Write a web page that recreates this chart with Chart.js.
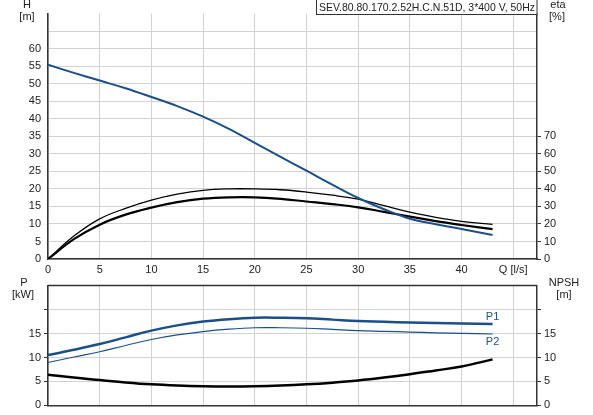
<!DOCTYPE html>
<html>
<head>
<meta charset="utf-8">
<script src="https://cdn.jsdelivr.net/npm/chart.js@4.4.1/dist/chart.umd.min.js"></script>
<style>
    body { margin: 0; background: #fff; width: 593px; height: 415px; position: relative; overflow: hidden; }
    canvas { position: absolute; left: 0; }
    #topChart { top: 0; }
    #botChart { top: 276px; }
</style>
</head>
<body>
<canvas id="topChart" width="593" height="276"></canvas>
<canvas id="botChart" width="593" height="139"></canvas>
<script>
// values
const flowQ = [0, 2.5, 5, 7.5, 10, 12.5, 15, 17.5, 20, 22.5, 25, 27.5, 30, 32.5, 35, 37.5, 40, 43];
const headH = [55.4, 53.1, 50.9, 48.7, 46.2, 43.6, 40.6, 37.1, 33.1, 29.1, 25.2, 21.2, 17.4, 14.2, 11.5, 9.9, 8.55, 6.85];
const etaPump = [0, 13.1, 22.9, 28.9, 33.6, 37.0, 39.2, 40.0, 40.0, 39.5, 38.2, 36.4, 34.1, 30.4, 26.7, 23.8, 21.5, 19.7];
const etaTotal = [0, 11.3, 19.6, 25.3, 29.3, 32.4, 34.4, 35.2, 35.2, 34.3, 32.8, 31.3, 29.5, 26.9, 24.2, 21.6, 19.4, 17.0];
const powerP1 = [10.5, 11.6, 12.8, 14.2, 15.6, 16.7, 17.5, 18.0, 18.3, 18.3, 18.2, 17.9, 17.6, 17.45, 17.3, 17.2, 17.1, 17.0];
const powerP2 = [8.95, 10.1, 11.2, 12.5, 13.75, 14.7, 15.4, 15.9, 16.2, 16.2, 16.1, 15.85, 15.6, 15.45, 15.3, 15.15, 15.05, 14.9];
const npshR = [6.4, 5.8, 5.3, 4.8, 4.4, 4.15, 4.0, 3.95, 4.0, 4.15, 4.4, 4.75, 5.2, 5.8, 6.5, 7.3, 8.1, 9.6];

const qTicks = [0, 5, 10, 15, 20, 25, 30, 35, 40, 45];
const qLabels = ["0", "5", "10", "15", "20", "25", "30", "35", "40", "Q [l/s]"];
const hTicks = [0, 5, 10, 15, 20, 25, 30, 35, 40, 45, 50, 55, 60, 65];
const hLabels = ["0", "5", "10", "15", "20", "25", "30", "35", "40", "45", "50", "55", "60", ""];
const etaTicks = [0, 10, 20, 30, 40, 50, 60, 70];
const pTicks = [0, 5, 10, 15, 20];
const pLabels = ["0", "5", "10", "15", ""];

const titleText = "SEV.80.80.170.2.52H.C.N.51D, 3*400 V, 50Hz";

const BLUE = "#1b4f8c";
const AXIS = "#333";
const GRID = "#d2d2d2";
const FONT = "'Liberation Sans', Arial, sans-serif";

Chart.defaults.font.family = FONT;
Chart.defaults.font.size = 11;
Chart.defaults.color = "#222";

function pts(ys) {
    return flowQ.map((q, i) => ({ x: q, y: ys[i] }));
}

function setTicks(values) {
    return (scale) => { scale.ticks = values.map((v) => ({ value: v })); };
}

function line(data, color, width, axis) {
    return {
        data: pts(data),
        borderColor: color,
        borderWidth: width,
        pointRadius: 0,
        tension: 0.4,
        yAxisID: axis,
        fill: false,
    };
}

function text(ctx, str, x, y, align, color, maxW) {
    ctx.save();
    ctx.font = "11px " + FONT;
    ctx.fillStyle = color || "#222";
    ctx.textAlign = align || "center";
    ctx.textBaseline = "middle";
    if (maxW) ctx.fillText(str, x, y, maxW);
    else ctx.fillText(str, x, y);
    ctx.restore();
}

const qAxis = (showLabels, h) => ({
    type: "linear",
    min: 0,
    max: 47.3,
    afterBuildTicks: setTicks(qTicks),
    afterFit: (s) => { s.height = h; },
    grid: { color: GRID, lineWidth: 1, drawTicks: false },
    border: { color: AXIS, width: 1.5 },
    ticks: {
        display: showLabels,
        padding: 4,
        maxRotation: 0,
        autoSkip: false,
        callback: (v, i) => qLabels[i],
    },
});

// top chart: head + efficiency
const topLabels = {
    id: "topLabels",
    afterDraw(chart) {
        const ctx = chart.ctx;
        text(ctx, "H", 27, 5);
        text(ctx, "[m]", 27, 17);
        text(ctx, "eta", 558, 5);
        text(ctx, "[%]", 557, 17);

        const a = chart.chartArea;
        ctx.save();
        ctx.fillStyle = "#fff";
        ctx.fillRect(316, 0, a.right - 316, 14);
        ctx.strokeStyle = AXIS;
        ctx.lineWidth = 1;
        ctx.strokeRect(316.5, -1, a.right - 316.5, 15.5);
        ctx.restore();
        text(ctx, titleText, 319, 7.5, "left", "#222", 216);
    },
};

new Chart(document.getElementById("topChart"), {
    type: "line",
    data: {
        datasets: [
            line(headH, BLUE, 2, "h"),
            line(etaPump, "#000", 1.3, "eta"),
            line(etaTotal, "#000", 2.2, "eta"),
        ],
    },
    options: {
        responsive: false,
        animation: false,
        layout: { padding: 0 },
        plugins: { legend: { display: false }, tooltip: { enabled: false } },
        scales: {
            x: qAxis(true, 17),
            h: {
                position: "left",
                min: 0,
                max: 70,
                afterBuildTicks: setTicks(hTicks),
                afterFit: (s) => { s.width = 48; },
                grid: { color: GRID, lineWidth: 1, drawTicks: false },
                border: { color: AXIS, width: 1.5 },
                ticks: { padding: 7, callback: (v, i) => hLabels[i] },
            },
            eta: {
                position: "right",
                min: 0,
                max: 140,
                afterBuildTicks: setTicks(etaTicks),
                afterFit: (s) => { s.width = 56; },
                grid: { drawOnChartArea: false, drawTicks: true, tickLength: 4, tickColor: AXIS },
                border: { color: AXIS, width: 1.5 },
                ticks: { padding: 3 },
            },
        },
    },
    plugins: [topLabels],
});

// bottom chart: power + NPSH
const botLabels = {
    id: "botLabels",
    afterDraw(chart) {
        const ctx = chart.ctx;
        const a = chart.chartArea;
        ctx.save();
        ctx.strokeStyle = AXIS;
        ctx.lineWidth = 1.5;
        ctx.beginPath();
        ctx.moveTo(a.left, a.top);
        ctx.lineTo(a.right, a.top);
        ctx.stroke();
        ctx.restore();

        text(ctx, "P", 24, 7);
        text(ctx, "[kW]", 23, 19);
        text(ctx, "NPSH", 564, 7);
        text(ctx, "[m]", 564, 19);

        const xs = chart.scales.x;
        const ps = chart.scales.p;
        const n = flowQ.length - 1;
        const xEnd = xs.getPixelForValue(flowQ[n]);
        text(ctx, "P1", xEnd, ps.getPixelForValue(powerP1[n]) - 7, "center", BLUE);
        text(ctx, "P2", xEnd, ps.getPixelForValue(powerP2[n]) + 8, "center", BLUE);
    },
};

new Chart(document.getElementById("botChart"), {
    type: "line",
    data: {
        datasets: [
            line(powerP1, BLUE, 2.5, "p"),
            line(powerP2, BLUE, 1.2, "p"),
            line(npshR, "#000", 2.5, "npsh"),
        ],
    },
    options: {
        responsive: false,
        animation: false,
        layout: { padding: { top: 1, left: 0, right: 0, bottom: 0 } },
        plugins: { legend: { display: false }, tooltip: { enabled: false } },
        scales: {
            x: qAxis(false, 8),
            p: {
                position: "left",
                min: 0,
                max: 25,
                afterBuildTicks: setTicks(pTicks),
                afterFit: (s) => { s.width = 48; },
                grid: { color: GRID, lineWidth: 1, tickLength: 4, tickColor: AXIS },
                border: { color: AXIS, width: 1.5 },
                ticks: { padding: 3, callback: (v, i) => pLabels[i] },
            },
            npsh: {
                position: "right",
                min: 0,
                max: 25,
                afterBuildTicks: setTicks(pTicks),
                afterFit: (s) => { s.width = 56; },
                grid: { drawOnChartArea: false, drawTicks: true, tickLength: 4, tickColor: AXIS },
                border: { color: AXIS, width: 1.5 },
                ticks: { padding: 3, callback: (v, i) => pLabels[i] },
            },
        },
    },
    plugins: [botLabels],
});
</script>
</body>
</html>
